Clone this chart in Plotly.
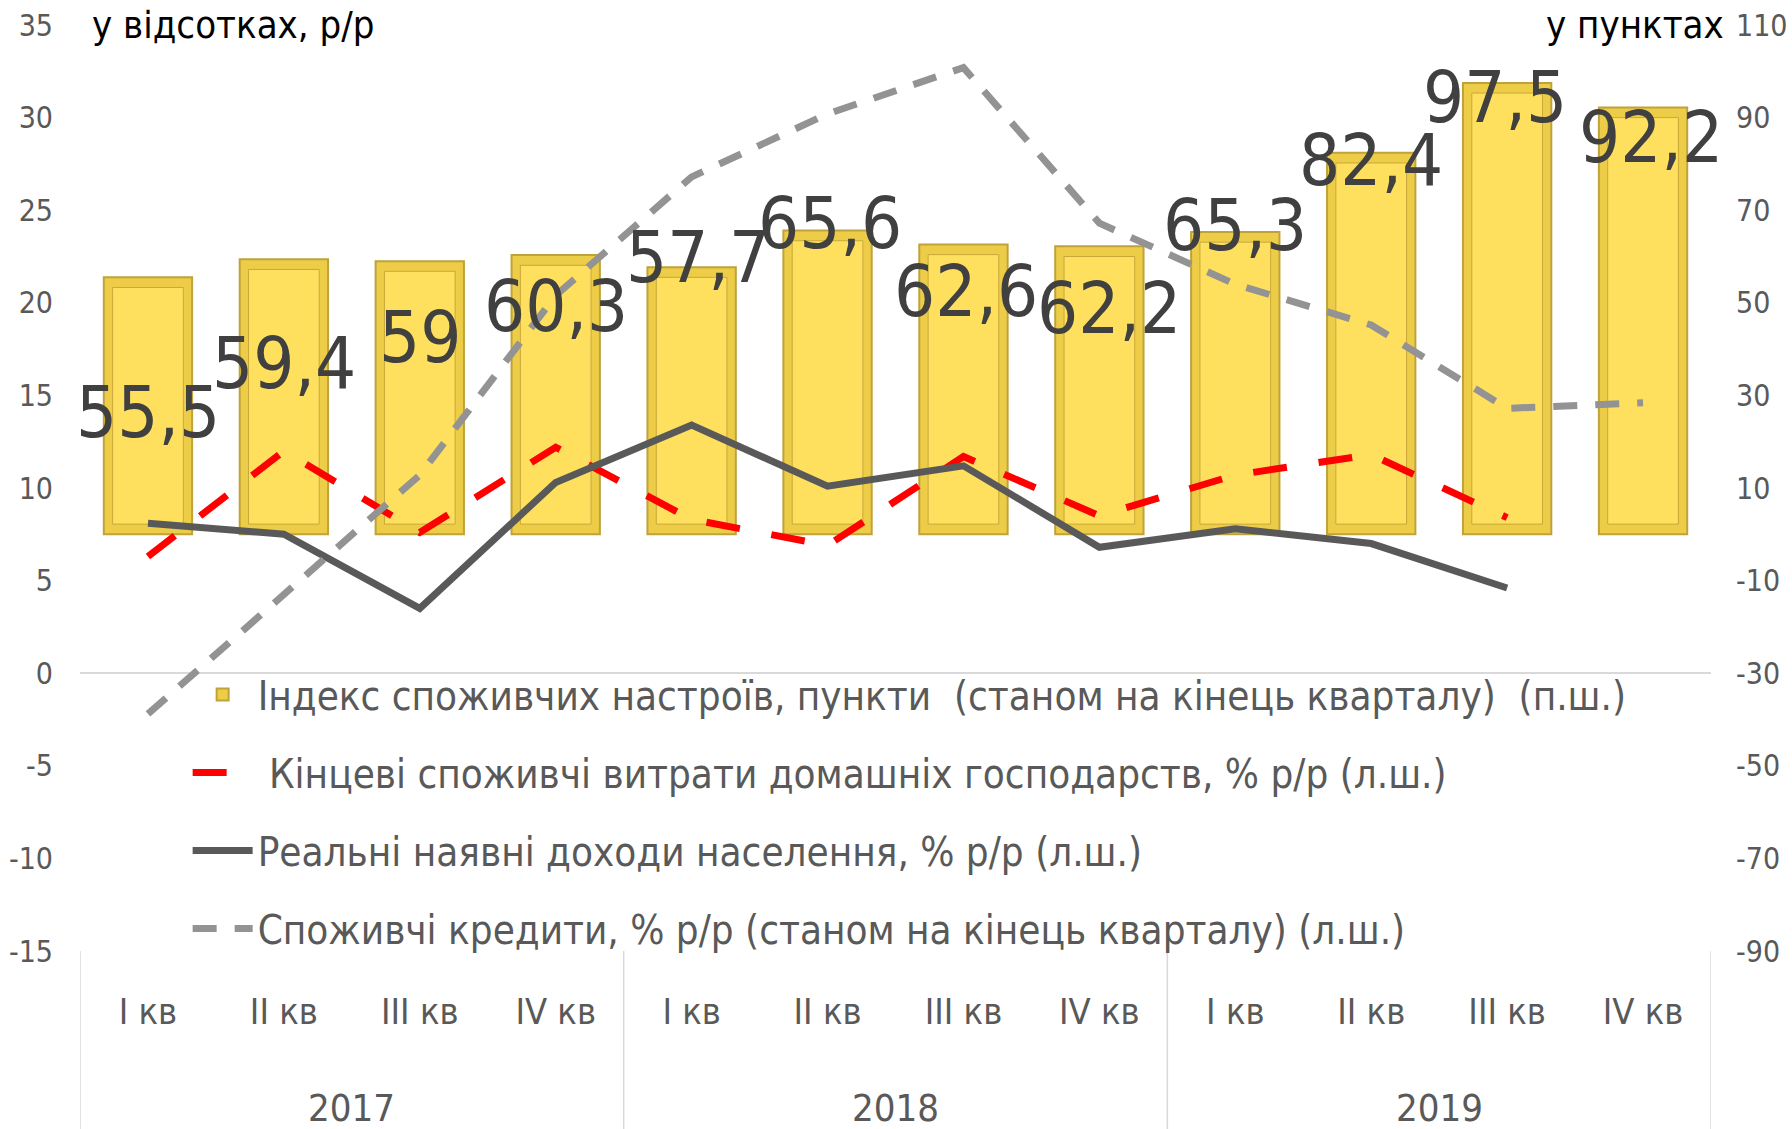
import plotly.graph_objects as go

# ---------------- data ----------------
years = ["2017", "2018", "2019"]
quarters = ["І кв", "ІІ кв", "ІІІ кв", "ІV кв"]
categories = [f"{q} {y}" for y in years for q in quarters]
quarter_labels = [q for y in years for q in quarters]

sentiment_index = [55.5, 59.4, 59.0, 60.3, 57.7, 65.6, 62.6, 62.2, 65.3, 82.4, 97.5, 92.2]
sentiment_text = ["55,5", "59,4", "59", "60,3", "57,7", "65,6", "62,6", "62,2", "65,3", "82,4", "97,5", "92,2"]
consumption = [6.3, 12.0, 7.6, 12.2, 8.3, 6.9, 11.7, 8.5, 10.7, 11.8, 8.4, None]
real_income = [8.1, 7.5, 3.5, 10.3, 13.4, 10.1, 11.2, 6.8, 7.8, 7.0, 4.6, None]
consumer_credit = [-2.2, 4.3, 10.7, 20.4, 26.8, 30.2, 32.7, 24.3, 21.0, 18.8, 14.3, 14.6]

left_ticks = [-15, -10, -5, 0, 5, 10, 15, 20, 25, 30, 35]
left_tick_text = ["-15", "-10", "-5", "0", "5", "10", "15", "20", "25", "30", "35"]
right_ticks = [-90, -70, -50, -30, -10, 10, 30, 50, 70, 90, 110]
right_tick_text = ["-90", "-70", "-50", "-30", "-10", "10", "30", "50", "70", "90", "110"]

names = [
    "Індекс споживчих настроїв, пункти\u00a0\u00a0(станом на кінець кварталу)\u00a0\u00a0(п.ш.)",
    "\u00a0Кінцеві споживчі витрати домашніх господарств, % р/р (л.ш.)",
    "Реальні наявні доходи населення, % р/р (л.ш.)",
    "Споживчі кредити, % р/р (станом на кінець кварталу) (л.ш.)",
]

# label placement tweaks (pixels, relative to bar top)
label_yshift = [-135, -104, -76, -51, 10, 8, -47, -62, 7, -7, -14, -30]
label_xshift = [0, 0, 0, 0, 6, 2, 3, 10, 0, 0, -12, 8]

FONT = "Liberation Sans Narrow, DejaVu Sans Condensed, Roboto, sans-serif"
GREY_TXT = "#595959"

fig = go.Figure()

# outer (bevel frame) bars -- on primary y (right side, points)
fig.add_trace(go.Bar(
    x=categories, y=sentiment_index, yaxis="y", name=names[0],
    width=0.65, marker=dict(color="#EDCD48", line=dict(color="#BFA23A", width=2)),
    legendgroup="a", showlegend=True,
))
# inner face of bars
inset = 2.2
fig.add_trace(go.Bar(
    x=categories, y=[v - 2 * inset for v in sentiment_index], base=inset, yaxis="y",
    width=0.52, marker=dict(color="#FFE05E", line=dict(color="#C9A83A", width=1)),
    showlegend=False, hoverinfo="skip",
))

# lines -- on overlaying y2 (left side, percent) so they sit above bars
fig.add_trace(go.Scatter(
    x=categories, y=consumption, name=names[1], mode="lines", yaxis="y2",
    line=dict(color="#FF0000", width=7, dash="34px,32px"), legendgroup="b",
))
fig.add_trace(go.Scatter(
    x=categories, y=real_income, name=names[2], mode="lines", yaxis="y2",
    line=dict(color="#595959", width=7), legendgroup="c",
))
fig.add_trace(go.Scatter(
    x=categories, y=consumer_credit, name=names[3], mode="lines", yaxis="y2",
    line=dict(color="#939393", width=7, dash="24px,18px"), legendgroup="d",
))

annotations = []
for i, (c, v, t) in enumerate(zip(categories, sentiment_index, sentiment_text)):
    annotations.append(dict(
        x=c, y=v, yref="y", xref="x", text=t, showarrow=False,
        yshift=label_yshift[i], xshift=label_xshift[i],
        font=dict(family=FONT, size=72, color="#404040"),
    ))
# year labels
for k, yr in enumerate(years):
    annotations.append(dict(
        x=4 * k + 1.5, y=-0.195, xref="x", yref="paper", text=yr, showarrow=False,
        font=dict(family=FONT, size=38, color=GREY_TXT),
    ))
annotations.append(dict(
    x=0.006, y=1.0, xref="paper", yref="paper", xanchor="left", yanchor="middle",
    text="у відсотках, р/р", showarrow=False, font=dict(family=FONT, size=38, color="#000000"),
))
annotations.append(dict(
    x=1.009, y=1.0, xref="paper", yref="paper", xanchor="right", yanchor="middle",
    text="у пунктах", showarrow=False, font=dict(family=FONT, size=38, color="#000000"),
))

shapes = []
for b in [-0.5, 3.5, 7.5, 11.5]:
    shapes.append(dict(type="line", xref="x", yref="paper", x0=b, x1=b, y0=0, y1=-0.2,
                       line=dict(color="#D9D9D9", width=1.5)))

fig.update_layout(
    width=1792, height=1129,
    margin=dict(l=80, r=81, t=25, b=178, autoexpand=False),
    paper_bgcolor="white", plot_bgcolor="white",
    barmode="overlay",
    font=dict(family=FONT, color=GREY_TXT),
    xaxis=dict(
        type="category", categoryorder="array", categoryarray=categories,
        tickvals=categories, ticktext=quarter_labels, range=[-0.5, 11.5],
        showgrid=False, showline=False, zeroline=False, ticks="", automargin=False,
        tickfont=dict(family=FONT, size=36, color=GREY_TXT), ticklabelstandoff=36,
    ),
    yaxis=dict(
        range=[-90, 110], side="right", tickvals=right_ticks, ticktext=right_tick_text,
        showgrid=False, zeroline=False, showline=False, automargin=False,
        tickfont=dict(family=FONT, size=30, color=GREY_TXT), ticks="", ticklabelstandoff=24,
    ),
    yaxis2=dict(
        range=[-15, 35], overlaying="y", side="left", tickvals=left_ticks, ticktext=left_tick_text,
        showgrid=False, showline=False, automargin=False,
        zeroline=True, zerolinecolor="#D9D9D9", zerolinewidth=2,
        tickfont=dict(family=FONT, size=30, color=GREY_TXT), ticks="", ticklabelstandoff=26,
    ),
    legend=dict(
        x=0.066, y=0.312, xanchor="left", yanchor="top",
        font=dict(family=FONT, size=40, color=GREY_TXT),
        bgcolor="rgba(0,0,0,0)", tracegroupgap=23, itemwidth=60,
        traceorder="grouped",
    ),
    annotations=annotations, shapes=shapes,
    showlegend=True,
)

fig.write_html("out.html", config={"displayModeBar": False},
               post_script="document.body.style.margin='0';")
